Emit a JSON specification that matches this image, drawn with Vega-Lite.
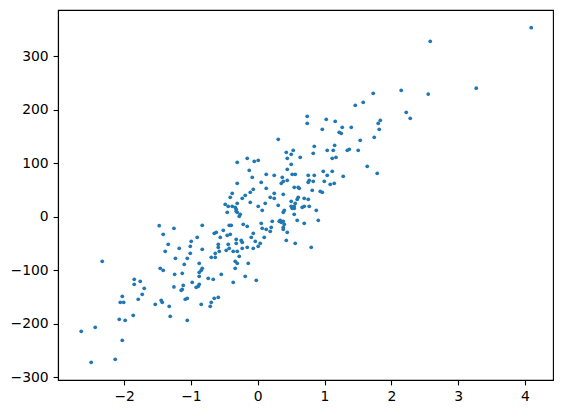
{
  "$schema": "https://vega.github.io/schema/vega-lite/v6.json",
  "width": 495,
  "height": 370,
  "autosize": {"type": "none"},
  "padding": {"left": 58, "top": 10, "right": 10, "bottom": 33},
  "config": {
    "view": {"stroke": "black", "strokeWidth": 1.1},
    "axis": {
      "grid": false,
      "domainColor": "black",
      "domainWidth": 1.1,
      "tickColor": "black",
      "tickWidth": 1.1,
      "tickSize": 4.9,
      "labelPadding": 4.9,
      "labelFont": "DejaVu Sans",
      "labelFontSize": 13.9,
      "labelColor": "black",
      "title": null
    }
  },
  "data": {"values": [
    {"x": -1.475, "y": -16.8}, {"x": -1.254, "y": -21.7}, {"x": -1.415, "y": -32.9}, {"x": -1.340, "y": -51.5},
    {"x": -1.385, "y": -64.6}, {"x": -2.328, "y": -83.3}, {"x": -1.232, "y": -77.7}, {"x": -1.460, "y": -96.4},
    {"x": -1.415, "y": -100.1}, {"x": -1.244, "y": -107.6}, {"x": -1.849, "y": -116.9}, {"x": -1.759, "y": -120.6},
    {"x": -1.849, "y": -126.2}, {"x": -1.699, "y": -133.7}, {"x": -1.254, "y": -131.3}, {"x": -1.729, "y": -144.9},
    {"x": -2.028, "y": -148.6}, {"x": -1.789, "y": -154.2}, {"x": -2.058, "y": -159.9}, {"x": -2.007, "y": -159.9},
    {"x": -1.445, "y": -156.1}, {"x": -1.430, "y": -159.9}, {"x": -1.534, "y": -163.6}, {"x": -1.325, "y": -167.3},
    {"x": -1.864, "y": -184.1}, {"x": -1.310, "y": -186.0}, {"x": -2.073, "y": -191.6}, {"x": -1.984, "y": -193.5},
    {"x": -2.433, "y": -206.5}, {"x": -2.642, "y": -214.0}, {"x": -2.028, "y": -230.8}, {"x": -2.133, "y": -266.3},
    {"x": -2.493, "y": -271.9},
    {"x": -0.307, "y": 101.6}, {"x": -0.157, "y": 109.1}, {"x": -0.052, "y": 103.5}, {"x": 0.007, "y": 105.3},
    {"x": -0.127, "y": 86.6}, {"x": -0.082, "y": 73.6}, {"x": 0.127, "y": 79.2}, {"x": 0.247, "y": 77.3},
    {"x": -0.307, "y": 62.4}, {"x": 0.052, "y": 64.2}, {"x": -0.067, "y": 51.2}, {"x": 0.127, "y": 53.0},
    {"x": -0.382, "y": 43.7}, {"x": -0.112, "y": 45.6}, {"x": -0.412, "y": 36.2}, {"x": -0.187, "y": 40.0},
    {"x": -0.232, "y": 34.4}, {"x": 0.247, "y": 43.7}, {"x": 0.187, "y": 36.2}, {"x": 0.247, "y": 34.4},
    {"x": -0.307, "y": 25.0}, {"x": -0.112, "y": 26.9}, {"x": 0.112, "y": 25.0}, {"x": -0.487, "y": 23.2},
    {"x": -0.442, "y": 19.4}, {"x": -0.382, "y": 19.4}, {"x": -0.337, "y": 17.6}, {"x": -0.322, "y": 13.8},
    {"x": -0.322, "y": 10.1}, {"x": -0.307, "y": 8.2}, {"x": -0.457, "y": 8.2}, {"x": 0.007, "y": 19.4},
    {"x": 0.067, "y": 12.0}, {"x": -0.262, "y": 4.5}, {"x": -0.277, "y": 0.7}, {"x": -0.217, "y": -14.2},
    {"x": -0.157, "y": -17.9}, {"x": 0.052, "y": -12.3}, {"x": 0.217, "y": -8.6}, {"x": 0.067, "y": -21.7},
    {"x": 0.127, "y": -23.5}, {"x": 0.202, "y": -19.8}, {"x": 0.187, "y": -27.3}, {"x": -0.067, "y": -31.0},
    {"x": 0.097, "y": -38.5}, {"x": -0.097, "y": -38.5}, {"x": -0.247, "y": -44.1}, {"x": -0.232, "y": -47.8},
    {"x": -0.322, "y": -42.2}, {"x": -0.322, "y": -49.7}, {"x": -0.037, "y": -45.9}, {"x": 0.037, "y": -49.7},
    {"x": 0.007, "y": -55.3}, {"x": -0.067, "y": -59.0}, {"x": -0.157, "y": -57.1}, {"x": -0.232, "y": -59.0},
    {"x": -0.307, "y": -64.6}, {"x": -0.277, "y": -73.9},
    {"x": -0.831, "y": -16.1}, {"x": -0.427, "y": -16.1}, {"x": -0.397, "y": -16.1}, {"x": -0.516, "y": -25.4},
    {"x": -0.651, "y": -31.0}, {"x": -0.621, "y": -29.1}, {"x": -0.457, "y": -34.7}, {"x": -0.412, "y": -32.9},
    {"x": -0.906, "y": -38.5}, {"x": -0.561, "y": -38.5}, {"x": -0.996, "y": -45.9}, {"x": -1.010, "y": -55.3},
    {"x": -1.175, "y": -59.0}, {"x": -0.831, "y": -60.9}, {"x": -0.591, "y": -51.5}, {"x": -0.591, "y": -57.1},
    {"x": -0.442, "y": -51.5}, {"x": -0.427, "y": -59.0}, {"x": -0.472, "y": -62.7}, {"x": -0.367, "y": -64.6},
    {"x": -0.576, "y": -64.6}, {"x": -1.010, "y": -68.3}, {"x": -0.636, "y": -68.3}, {"x": -0.696, "y": -75.8},
    {"x": -0.636, "y": -75.8}, {"x": -1.055, "y": -77.7}, {"x": -0.337, "y": -83.3}, {"x": -0.307, "y": -87.0},
    {"x": -0.142, "y": -87.0}, {"x": -0.876, "y": -87.0}, {"x": -1.100, "y": -88.9}, {"x": -0.831, "y": -96.4},
    {"x": -0.846, "y": -100.1}, {"x": -0.337, "y": -96.4}, {"x": -1.130, "y": -105.7}, {"x": -0.876, "y": -103.8},
    {"x": -0.546, "y": -107.6}, {"x": -0.876, "y": -111.3}, {"x": -0.187, "y": -111.3}, {"x": -0.741, "y": -115.0},
    {"x": -0.666, "y": -116.9}, {"x": -0.981, "y": -122.5}, {"x": -0.367, "y": -122.5}, {"x": -1.115, "y": -128.1},
    {"x": -0.876, "y": -126.2}, {"x": -0.891, "y": -130.0}, {"x": -0.921, "y": -131.8}, {"x": -1.130, "y": -135.6},
    {"x": -1.145, "y": -137.4}, {"x": -0.591, "y": -150.5}, {"x": -0.651, "y": -152.4}, {"x": -1.055, "y": -152.4},
    {"x": -1.085, "y": -154.2}, {"x": -0.696, "y": -159.9}, {"x": -0.846, "y": -163.6}, {"x": -0.711, "y": -167.3},
    {"x": -1.055, "y": -193.5}, {"x": -0.022, "y": -118.8},
    {"x": 0.741, "y": 187.5}, {"x": 0.741, "y": 174.4}, {"x": 1.025, "y": 181.9}, {"x": 0.966, "y": 163.2},
    {"x": 1.160, "y": 178.2}, {"x": 0.307, "y": 144.5}, {"x": 0.846, "y": 131.5}, {"x": 1.151, "y": 133.3},
    {"x": 0.427, "y": 120.3}, {"x": 0.531, "y": 124.0}, {"x": 0.501, "y": 116.5}, {"x": 0.831, "y": 118.4},
    {"x": 1.040, "y": 124.0}, {"x": 1.130, "y": 124.0}, {"x": 0.442, "y": 109.1}, {"x": 0.636, "y": 110.9},
    {"x": 1.115, "y": 109.1}, {"x": 1.171, "y": 110.9}, {"x": 0.501, "y": 97.9}, {"x": 0.442, "y": 88.5},
    {"x": 0.981, "y": 84.8}, {"x": 1.115, "y": 84.8},
    {"x": 0.367, "y": 73.6}, {"x": 0.516, "y": 79.2}, {"x": 0.561, "y": 79.2}, {"x": 0.756, "y": 77.3},
    {"x": 0.846, "y": 77.3}, {"x": 1.040, "y": 77.3}, {"x": 0.352, "y": 62.4}, {"x": 0.382, "y": 66.1},
    {"x": 0.442, "y": 68.0}, {"x": 0.771, "y": 68.0}, {"x": 0.756, "y": 64.2}, {"x": 0.831, "y": 66.1},
    {"x": 0.996, "y": 66.1}, {"x": 1.085, "y": 60.5}, {"x": 1.145, "y": 62.4}, {"x": 0.546, "y": 54.9},
    {"x": 0.606, "y": 54.9}, {"x": 0.621, "y": 53.0}, {"x": 0.816, "y": 49.3}, {"x": 0.936, "y": 47.4},
    {"x": 0.966, "y": 45.6}, {"x": 0.382, "y": 41.8}, {"x": 0.606, "y": 36.2}, {"x": 0.591, "y": 32.5},
    {"x": 0.696, "y": 34.4}, {"x": 0.756, "y": 32.5}, {"x": 0.307, "y": 21.3}, {"x": 0.501, "y": 28.8},
    {"x": 0.561, "y": 25.0}, {"x": 0.501, "y": 19.4}, {"x": 0.516, "y": 15.7}, {"x": 0.546, "y": 15.7},
    {"x": 0.546, "y": 19.4}, {"x": 0.696, "y": 19.4}, {"x": 0.666, "y": 17.6}, {"x": 0.771, "y": 19.4},
    {"x": 0.397, "y": 12.0}, {"x": 0.382, "y": 8.2}, {"x": 0.876, "y": 12.0}, {"x": 0.546, "y": 4.5},
    {"x": 0.337, "y": -6.7}, {"x": 0.322, "y": -8.6}, {"x": 0.352, "y": -10.5}, {"x": 0.382, "y": -8.6},
    {"x": 0.397, "y": -14.2}, {"x": 0.591, "y": -6.7}, {"x": 0.696, "y": -12.3}, {"x": 0.906, "y": -6.7},
    {"x": 0.382, "y": -19.8}, {"x": 0.382, "y": -23.5}, {"x": 0.442, "y": -29.1}, {"x": 0.427, "y": -44.1},
    {"x": 0.561, "y": -49.7}, {"x": 0.801, "y": -57.1},
    {"x": 1.729, "y": 230.4}, {"x": 2.148, "y": 236.0}, {"x": 1.460, "y": 208.0}, {"x": 1.579, "y": 213.6},
    {"x": 2.223, "y": 195.0}, {"x": 2.283, "y": 183.8}, {"x": 1.265, "y": 166.9}, {"x": 1.400, "y": 166.9},
    {"x": 1.834, "y": 180.0}, {"x": 1.804, "y": 174.4}, {"x": 1.819, "y": 163.2}, {"x": 1.220, "y": 157.6},
    {"x": 1.250, "y": 155.7}, {"x": 1.744, "y": 148.3}, {"x": 1.534, "y": 142.7}, {"x": 1.340, "y": 124.0},
    {"x": 1.370, "y": 125.9}, {"x": 1.504, "y": 124.0}, {"x": 1.639, "y": 94.1}, {"x": 1.789, "y": 81.0},
    {"x": 1.280, "y": 75.4},
    {"x": 2.582, "y": 327.5}, {"x": 4.094, "y": 353.0}, {"x": 3.271, "y": 240.0}, {"x": 2.552, "y": 229.0}
  ]},
  "mark": {"type": "point", "filled": true, "shape": "circle", "size": 14, "opacity": 1, "color": "#1f77b4"},
  "encoding": {
    "x": {
      "field": "x", "type": "quantitative",
      "scale": {"domain": [-2.99, 4.42], "nice": false, "zero": false},
      "axis": {"values": [-2, -1, 0, 1, 2, 3, 4], "labelExpr": "replace(datum.label, '-', '−')"}
    },
    "y": {
      "field": "y", "type": "quantitative",
      "scale": {"domain": [-305, 386], "nice": false, "zero": false},
      "axis": {"values": [-300, -200, -100, 0, 100, 200, 300], "labelExpr": "replace(datum.label, '-', '−')"}
    }
  }
}
